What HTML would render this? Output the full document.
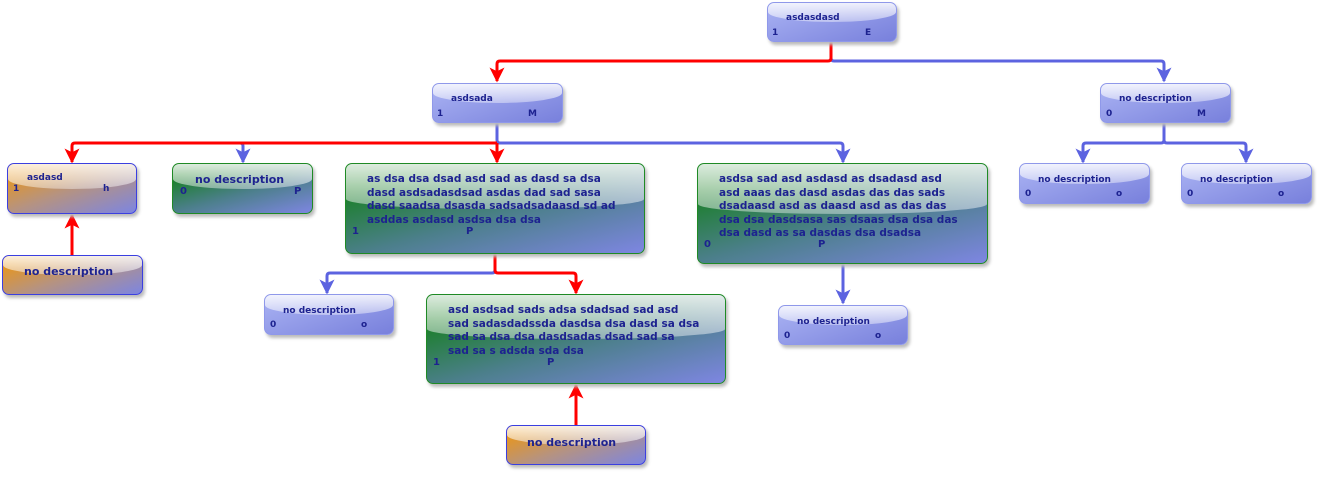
<!DOCTYPE html>
<html><head><meta charset="utf-8"><style>
body{margin:0;width:1317px;height:479px;background:#fff;position:relative;overflow:hidden;font-family:"DejaVu Sans","Liberation Sans",sans-serif;font-weight:bold;color:#1d2290}
.n{position:absolute;border-radius:7px;box-shadow:2px 3px 3px #bbb;overflow:hidden;box-sizing:border-box}
.n::before{content:"";position:absolute;left:0;right:0;top:0;height:50%;background:linear-gradient(rgba(255,255,255,.85),rgba(255,255,255,.4));border-radius:0 0 50% 50%/0 0 10px 10px}
.b{background:linear-gradient(160deg,#aab3f3,#7880dc);border:1px solid #8f98ea}
.o{background:linear-gradient(160deg,#e8961c 10%,#b69380 50%,#7c85e2);border:1px solid #3b3fe0}
.g{background:linear-gradient(165deg,#177f22 15%,#4b7f8a 55%,#7e86e2);border:1px solid #1f8a25}
.t{position:absolute;z-index:1;white-space:nowrap}
svg{position:absolute;left:0;top:0}
</style></head><body>
<svg width="1317" height="479" fill="none" stroke-width="3">
<defs>
<marker id="ar" viewBox="0 0 10 10" refX="9" refY="5" markerWidth="5" markerHeight="5" orient="auto" markerUnits="strokeWidth"><path d="M0 0L2.5 5L0 10L10 5Z" fill="#f00" stroke="none"/></marker>
<marker id="ab" viewBox="0 0 10 10" refX="9" refY="5" markerWidth="5" markerHeight="5" orient="auto" markerUnits="strokeWidth"><path d="M0 0L2.5 5L0 10L10 5Z" fill="#5c63e0" stroke="none"/></marker>
</defs>
<g stroke="#5c63e0">
<path d="M831 42V58Q831 61 834 61H1161Q1164 61 1164 64V81" marker-end="url(#ab)"/>
<path d="M497 123V140Q497 143 500 143H240Q243 143 243 146V162" marker-end="url(#ab)"/>
<path d="M497 143H840Q843 143 843 146V162" marker-end="url(#ab)"/>
<path d="M1164 123V140Q1164 143 1161 143H1086Q1083 143 1083 146V162" marker-end="url(#ab)"/>
<path d="M1164 140Q1164 143 1167 143H1243Q1246 143 1246 146V162" marker-end="url(#ab)"/>
<path d="M495 254V270Q495 273 492 273H330Q327 273 327 276V293" marker-end="url(#ab)"/>
<path d="M843 264V303" marker-end="url(#ab)"/>
</g>
<g stroke="#f00">
<path d="M831 42V58Q831 61 828 61H500Q497 61 497 64V81" marker-end="url(#ar)"/>
<path d="M497 143H75Q72 143 72 146V162" marker-end="url(#ar)"/>
<path d="M497 143V162" marker-end="url(#ar)"/>
<path d="M72 255V215" marker-end="url(#ar)"/>
<path d="M495 254V270Q495 273 498 273H573Q576 273 576 276V293" marker-end="url(#ar)"/>
<path d="M576 425V385" marker-end="url(#ar)"/>
</g>
</svg>

<div class="n b" style="left:767px;top:2px;width:130px;height:40px"><span class="t" style="left:18px;top:10px;font-size:9px">asdasdasd</span><span class="t" style="left:4px;top:25px;font-size:9px">1</span><span class="t" style="left:97px;top:25px;font-size:9px">E</span></div>
<div class="n b" style="left:432px;top:83px;width:131px;height:40px"><span class="t" style="left:18px;top:10px;font-size:9px">asdsada</span><span class="t" style="left:4px;top:25px;font-size:9px">1</span><span class="t" style="left:95px;top:25px;font-size:9px">M</span></div>
<div class="n b" style="left:1100px;top:83px;width:131px;height:40px"><span class="t" style="left:18px;top:10px;font-size:9px">no description</span><span class="t" style="left:5px;top:25px;font-size:9px">0</span><span class="t" style="left:96px;top:25px;font-size:9px">M</span></div>
<div class="n o" style="left:7px;top:163px;width:130px;height:51px"><span class="t" style="left:19px;top:9px;font-size:9px">asdasd</span><span class="t" style="left:5px;top:20px;font-size:9px">1</span><span class="t" style="left:95px;top:20px;font-size:9px">h</span></div>
<div class="n g" style="left:172px;top:163px;width:141px;height:51px"><span class="t" style="left:22px;top:9px;font-size:11px">no description</span><span class="t" style="left:7px;top:22px;font-size:10px">0</span><span class="t" style="left:121px;top:22px;font-size:10px">P</span></div>
<div class="n g" style="left:345px;top:163px;width:300px;height:91px"><span class="t" style="left:21px;top:9px;font-size:10.5px;line-height:13.5px">as dsa dsa dsad asd sad as dasd sa dsa<br>dasd asdsadasdsad asdas dad sad sasa<br>dasd saadsa dsasda sadsadsadaasd sd ad<br>asddas asdasd asdsa dsa dsa</span><span class="t" style="left:6px;top:62px;font-size:10px">1</span><span class="t" style="left:120px;top:62px;font-size:10px">P</span></div>
<div class="n g" style="left:697px;top:163px;width:291px;height:101px"><span class="t" style="left:21px;top:9px;font-size:10.5px;line-height:13.5px">asdsa sad asd asdasd as dsadasd asd<br>asd aaas das dasd asdas das das sads<br>dsadaasd asd as daasd asd as das das<br>dsa dsa dasdsasa sas dsaas dsa dsa das<br>dsa dasd as sa dasdas dsa dsadsa</span><span class="t" style="left:6px;top:75px;font-size:10px">0</span><span class="t" style="left:120px;top:75px;font-size:10px">P</span></div>
<div class="n b" style="left:1019px;top:163px;width:131px;height:41px"><span class="t" style="left:18px;top:11px;font-size:9px">no description</span><span class="t" style="left:5px;top:25px;font-size:9px">0</span><span class="t" style="left:96px;top:25px;font-size:9px">o</span></div>
<div class="n b" style="left:1181px;top:163px;width:131px;height:41px"><span class="t" style="left:18px;top:11px;font-size:9px">no description</span><span class="t" style="left:5px;top:25px;font-size:9px">0</span><span class="t" style="left:96px;top:25px;font-size:9px">o</span></div>
<div class="n o" style="left:2px;top:255px;width:141px;height:40px"><span class="t" style="left:21px;top:9px;font-size:11px">no description</span></div>
<div class="n b" style="left:264px;top:294px;width:130px;height:41px"><span class="t" style="left:18px;top:11px;font-size:9px">no description</span><span class="t" style="left:5px;top:25px;font-size:9px">0</span><span class="t" style="left:96px;top:25px;font-size:9px">o</span></div>
<div class="n g" style="left:426px;top:294px;width:300px;height:90px"><span class="t" style="left:21px;top:9px;font-size:10.5px;line-height:13.5px">asd asdsad sads adsa sdadsad sad asd<br>sad sadasdadssda dasdsa dsa dasd sa dsa<br>sad sa dsa dsa dasdsadas dsad sad sa<br>sad sa s adsda sda dsa</span><span class="t" style="left:6px;top:62px;font-size:10px">1</span><span class="t" style="left:120px;top:62px;font-size:10px">P</span></div>
<div class="n b" style="left:778px;top:305px;width:130px;height:40px"><span class="t" style="left:18px;top:11px;font-size:9px">no description</span><span class="t" style="left:5px;top:25px;font-size:9px">0</span><span class="t" style="left:96px;top:25px;font-size:9px">o</span></div>
<div class="n o" style="left:506px;top:425px;width:140px;height:40px"><span class="t" style="left:20px;top:10px;font-size:11px">no description</span></div>
</body></html>
